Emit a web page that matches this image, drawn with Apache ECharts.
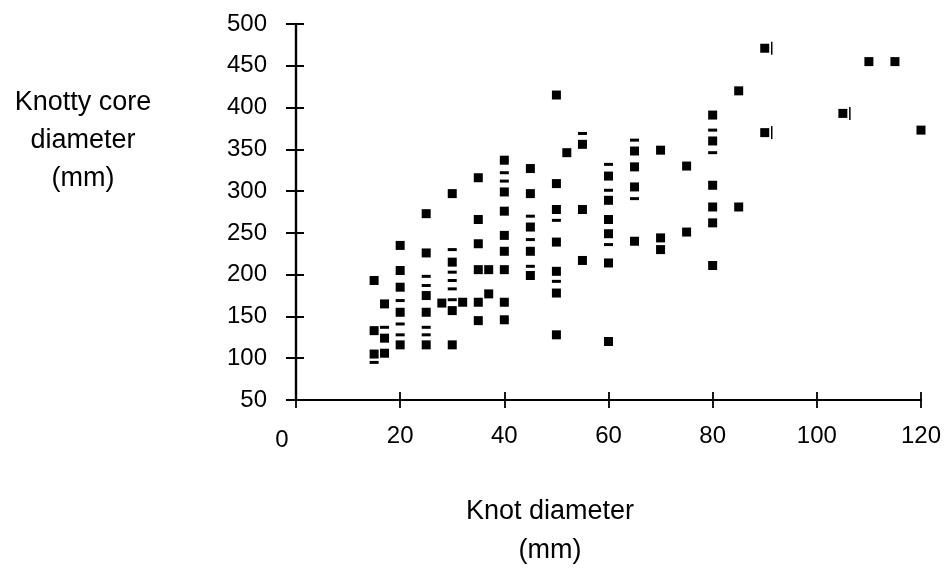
<!DOCTYPE html>
<html>
<head>
<meta charset="utf-8">
<script src="https://cdn.jsdelivr.net/npm/echarts@6/dist/echarts.min.js"></script>
<style>
  html, body { margin: 0; padding: 0; background: #fff; }
  #chart { width: 944px; height: 580px; }
</style>
</head>
<body>
<div id="chart"></div>
<script>
(function() {
  // full square markers: [knot diameter, knotty core diameter]
  var squares = [
    [15, 193], [15, 133], [15, 105],
    [17, 165], [17, 124], [17, 106],
    [20, 235], [20, 205], [20, 185], [20, 155], [20, 116],
    [25, 273], [25, 226], [25, 175], [25, 155], [25, 116],
    [28, 166],
    [30, 297], [30, 215], [30, 157], [30, 116],
    [32, 167],
    [35, 316], [35, 266], [35, 237], [35, 206], [35, 167], [35, 145],
    [37, 206], [37, 177],
    [40, 337], [40, 299], [40, 276], [40, 247], [40, 228], [40, 206], [40, 167], [40, 146],
    [45, 327], [45, 297], [45, 257], [45, 228], [45, 199],
    [50, 415], [50, 309], [50, 278], [50, 239], [50, 204], [50, 178], [50, 128],
    [52, 346],
    [55, 356], [55, 278], [55, 217],
    [60, 318], [60, 289], [60, 266], [60, 249], [60, 214], [60, 120],
    [65, 348], [65, 329], [65, 305], [65, 240],
    [70, 349], [70, 244], [70, 230],
    [75, 330], [75, 251],
    [80, 391], [80, 360], [80, 307], [80, 281], [80, 262], [80, 211],
    [85, 420], [85, 281],
    [90, 471], [90, 370],
    [105, 393],
    [110, 455], [115, 455],
    [120, 373]
  ];
  // partly printed markers (show as short dashes)
  var dashes = [
    [15, 95],
    [17, 137],
    [20, 169], [20, 141], [20, 128],
    [25, 198], [25, 187], [25, 137], [25, 128],
    [30, 230], [30, 203], [30, 193], [30, 183], [30, 170],
    [40, 322], [40, 312],
    [45, 270], [45, 242], [45, 210],
    [50, 265], [50, 192],
    [55, 369],
    [60, 332], [60, 301], [60, 236],
    [65, 361], [65, 291],
    [80, 373], [80, 346]
  ];
  // points drawn with a small bar beside them
  var barred = [[90, 471], [90, 370], [105, 393]];

  var xTicks = [0, 20, 40, 60, 80, 100, 120];
  var yTicks = [50, 100, 150, 200, 250, 300, 350, 400, 450, 500];

  var ink = '#000';
  var font = '"Liberation Sans", Arial, sans-serif';

  var chart = echarts.init(document.getElementById('chart'), null, { renderer: 'canvas' });
  chart.setOption({
    animation: false,
    backgroundColor: '#fff',
    grid: { left: 296, right: 22, top: 24, bottom: 180 },
    xAxis: [{
      type: 'value',
      min: xTicks[0], max: xTicks[xTicks.length - 1], interval: 20,
      axisLine: { show: true, onZero: false, lineStyle: { color: ink, width: 1.8 } },
      axisTick: { show: true, length: 8, lineStyle: { color: ink, width: 1.8 } },
      axisLabel: {
        color: ink, fontSize: 24, fontFamily: font, margin: 24,
        formatter: function(v) { return v === 0 ? '{z|0}' : String(v); },
        rich: { z: { fontSize: 24, fontFamily: font, color: ink, padding: [4, 28, 0, 0] } }
      },
      splitLine: { show: false }
    }, {
      type: 'value', position: 'bottom',
      min: xTicks[0], max: xTicks[xTicks.length - 1], interval: 20,
      axisLine: { show: false },
      axisTick: { show: true, inside: true, length: 8, lineStyle: { color: ink, width: 1.8 } },
      axisLabel: { show: false },
      splitLine: { show: false }
    }],
    yAxis: [{
      type: 'value',
      min: yTicks[0], max: yTicks[yTicks.length - 1], interval: 50,
      axisLine: { show: true, onZero: false, lineStyle: { color: ink, width: 2.4 } },
      axisTick: { show: true, length: 10, lineStyle: { color: ink, width: 2 } },
      axisLabel: { color: ink, fontSize: 24, fontFamily: font, margin: 29 },
      splitLine: { show: false }
    }, {
      type: 'value', position: 'left',
      min: yTicks[0], max: yTicks[yTicks.length - 1], interval: 50,
      axisLine: { show: false },
      axisTick: { show: true, inside: true, length: 8, lineStyle: { color: ink, width: 2 } },
      axisLabel: { show: false },
      splitLine: { show: false }
    }],
    graphic: [{
      type: 'text',
      x: 83, y: 141,
      style: {
        text: 'Knotty core\ndiameter\n(mm)',
        fill: ink, font: '27px ' + font,
        textAlign: 'center', textVerticalAlign: 'middle', lineHeight: 38
      }
    }, {
      type: 'text',
      x: 550, y: 531,
      style: {
        text: 'Knot diameter\n(mm)',
        fill: ink, font: '27px ' + font,
        textAlign: 'center', textVerticalAlign: 'middle', lineHeight: 39
      }
    }],
    series: [{
      type: 'scatter',
      data: squares,
      symbol: 'rect',
      symbolSize: 9,
      itemStyle: { color: ink, opacity: 1 }
    }, {
      type: 'scatter',
      data: dashes,
      symbol: 'rect',
      symbolSize: [9, 3],
      itemStyle: { color: ink, opacity: 1 }
    }, {
      type: 'scatter',
      data: barred,
      symbol: 'rect',
      symbolSize: [1.5, 13],
      symbolOffset: [7, 0],
      itemStyle: { color: ink, opacity: 1 }
    }]
  });
})();
</script>
</body>
</html>
